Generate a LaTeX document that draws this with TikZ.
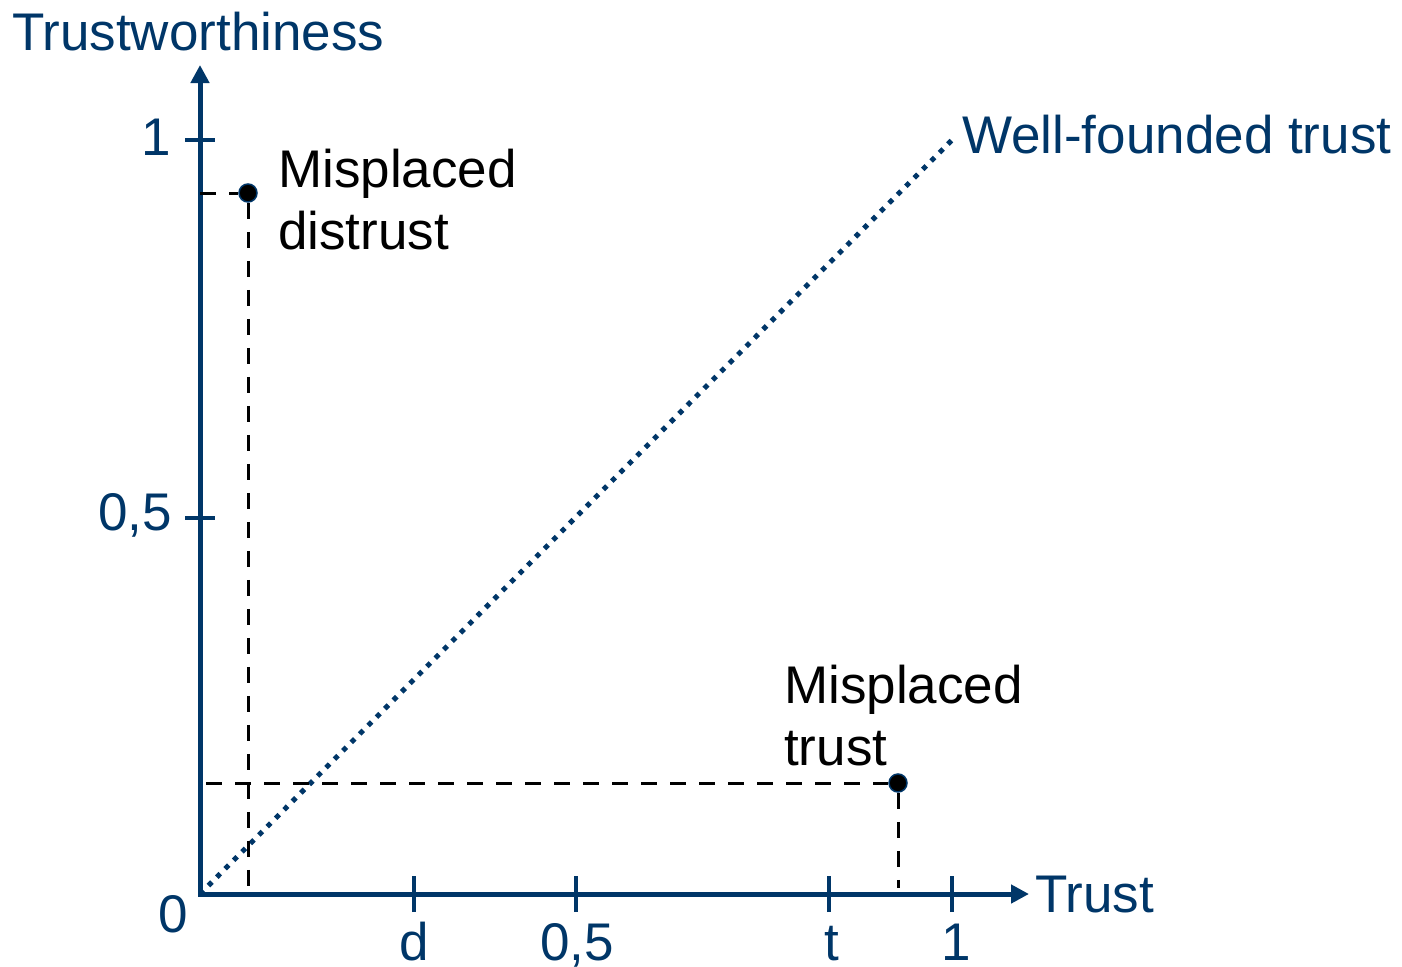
\documentclass[tikz,border=0pt]{standalone}
\usepackage{fontspec}
\setmainfont{Liberation Sans}
\usetikzlibrary{arrows.meta}
\definecolor{navy}{RGB}{0,54,104}
\tikzset{
  lbl/.style={inner sep=0pt, font=\fontsize{53}{62.5}\selectfont},
  axislbl/.style={lbl, text=navy},
  notelbl/.style={lbl, text=black, align=left, anchor=north west},
  axisline/.style={draw=navy, line width=5pt, miter limit=10},
  tickmark/.style={draw=navy, line width=4pt},
  guide/.style={draw=black, line width=3pt, dash pattern=on 16pt off 13pt},
  diagonal/.style={draw=navy, line width=5pt, dash pattern=on 5pt off 6.9pt},
  datapoint/.style={circle, fill=black, draw=navy, line width=1.5pt, minimum size=18pt, inner sep=0pt}
}
\begin{document}
\begin{tikzpicture}[x=1pt, y=-1pt]
\useasboundingbox (0,0) rectangle (1402,966);

% axes
\coordinate (O) at (200,894);
\coordinate (ytip) at (200,65);
\coordinate (xtip) at (1029,894);
\draw[axisline, {Triangle[length=18pt,width=18pt]}-{Triangle[length=18pt,width=18pt]}]
  (ytip) -- (O) -- (xtip);

\node[axislbl, anchor=base west] (ylabel) at (12,51) {Trustworthiness};
\node[axislbl, anchor=base west] (xlabel) at (1035,912) {Trust};

% ticks on the vertical axis
\coordinate (y1) at (200,140);
\coordinate (yhalf) at (200,518);
\draw[tickmark] ([xshift=-15pt]y1) -- ([xshift=15pt]y1);
\draw[tickmark] ([xshift=-15pt]yhalf) -- ([xshift=15pt]yhalf);
\node[axislbl, anchor=base east] (ty1) at (171,155) {1};
\node[axislbl, anchor=base east] (tyhalf) at (172,530) {0,5};
\node[axislbl, anchor=base east] (tzero) at (188,932) {0};

% ticks on the horizontal axis
\foreach \name/\x in {xd/414, xhalf/576, xt/829, x1/952}{
  \coordinate (\name) at (\x,894);
  \draw[tickmark] ([yshift=-18pt]\name) -- ([yshift=18pt]\name);
}
\node[axislbl, anchor=base] (td) at (414,960) {d};
\node[axislbl, anchor=base] (thalf) at (577,960) {0,5};
\node[axislbl, anchor=base] (tt) at (832,960) {t};
\node[axislbl, anchor=base] (tx1) at (956,960) {1};

% well-founded trust diagonal
\coordinate (diagend) at (952,140);
\draw[diagonal] (O) -- (diagend);
\node[axislbl, anchor=base west] (wft) at (962,153) {Well-founded trust};

% misplaced distrust
\node[datapoint] (pd) at (248,193) {};
\coordinate (pdy) at (200,193);
\coordinate (pdx) at (248,894);
\draw[guide] (pdy) -- (pd.west);
\draw[guide] (pd.south) -- (pdx);
\node[notelbl] (ld) at (278,148.5) {Misplaced\\distrust};

% misplaced trust
\node[datapoint] (pt) at (898,783) {};
\coordinate (pty) at (206,783);
\coordinate (ptx) at (898,888);
\draw[guide] (pty) -- (pt.west);
\draw[guide] (pt.south) -- (ptx);
\node[notelbl] (lt) at (784,664.5) {Misplaced\\trust};
\end{tikzpicture}
\end{document}
